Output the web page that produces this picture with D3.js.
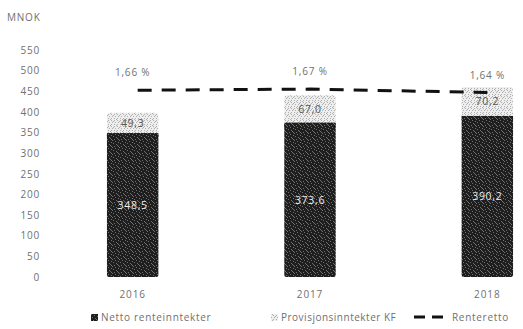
<!DOCTYPE html>
<html>
<head>
<meta charset="utf-8">
<script src="https://cdn.jsdelivr.net/npm/d3@7/dist/d3.min.js"></script>
<style>
  html, body { margin: 0; padding: 0; background: #fff; }
  svg text { font-family: "Open Sans", "DejaVu Sans", sans-serif; }
</style>
</head>
<body>
<svg id="chart" width="523" height="329"></svg>
<script>
// Inntekter per år (MNOK) og rentenetto (%)
const years = ["2016", "2017", "2018"];
const nettoRenteinntekter = [348.5, 373.6, 390.2];
const provisjonsinntekter = [49.3, 67.0, 70.2];
const renteNetto = [1.66, 1.67, 1.64];
const yTicks = [0, 50, 100, 150, 200, 250, 300, 350, 400, 450, 500, 550];
const legendLabels = ["Netto renteinntekter", "Provisjonsinntekter KF", "Renteretto"];

const fmt = v => v.toFixed(1).replace(".", ",");
const fmtPct = v => v.toFixed(2).replace(".", ",") + " %";

const svg = d3.select("#chart");
const textColor = "#707070";

// Teksturer for stolpene
const defs = svg.append("defs");
const dark = defs.append("pattern").attr("id", "darkTex")
  .attr("patternUnits", "userSpaceOnUse").attr("width", 7).attr("height", 7);
dark.append("rect").attr("width", 7).attr("height", 7).attr("fill", "#1e1e1e");
[[0,0],[3,1],[6,2],[1,3],[4,4],[2,6],[5,5],[6,6]].forEach(([x, y]) =>
  dark.append("rect").attr("x", x).attr("y", y).attr("width", 1).attr("height", 1).attr("fill", "#707070"));
const light = defs.append("pattern").attr("id", "lightTex")
  .attr("patternUnits", "userSpaceOnUse").attr("width", 6).attr("height", 6);
light.append("rect").attr("width", 6).attr("height", 6).attr("fill", "#eeeeee");
[[0,0],[3,0],[1,2],[4,2],[0,4],[3,4],[5,1],[2,5]].forEach(([x, y]) =>
  light.append("rect").attr("x", x).attr("y", y).attr("width", 1).attr("height", 1).attr("fill", "#b0b0b0"));

// Skalaer
const x = d3.scaleBand().domain(years).range([44, 576]).paddingInner(0.71).paddingOuter(0.355);
const y = d3.scaleLinear().domain([0, 550]).range([277, 50]);
const y2 = d3.scaleLinear().domain([0, 2.0]).range([277, 52]);

// Y-akse
const yAxis = svg.append("g").attr("transform", "translate(40,0)")
  .call(d3.axisLeft(y).tickValues(yTicks).tickSize(0).tickPadding(0));
yAxis.select(".domain").remove();
yAxis.selectAll("text").attr("fill", textColor).attr("font-size", 10).attr("letter-spacing", "0.8px");

svg.append("text").attr("x", 7).attr("y", 21).attr("fill", textColor)
  .attr("font-size", 10).attr("letter-spacing", "0.8px").text("MNOK");

// X-akse
const xAxis = svg.append("g").attr("transform", "translate(0,277)")
  .call(d3.axisBottom(x).tickSize(0).tickPadding(14));
xAxis.select(".domain").remove();
xAxis.selectAll("text").attr("fill", textColor).attr("font-size", 10).attr("letter-spacing", "0.9px");

// Stablede stolper
const bars = svg.append("g");
years.forEach((yr, i) => {
  const x0 = x(yr), w = x.bandwidth();
  const base = nettoRenteinntekter[i];
  const top = base + provisjonsinntekter[i];
  bars.append("rect").attr("x", x0).attr("width", w)
    .attr("y", y(top)).attr("height", y(base) - y(top) + 3)
    .attr("rx", 3).attr("fill", "url(#lightTex)");
  bars.append("rect").attr("x", x0).attr("width", w)
    .attr("y", y(base)).attr("height", y(0) - y(base))
    .attr("rx", 2).attr("fill", "url(#darkTex)");
  bars.append("rect").attr("x", x0).attr("width", w)
    .attr("y", y(base)).attr("height", 4).attr("fill", "url(#darkTex)");
  bars.append("text").attr("x", x0 + w / 2).attr("y", (y(base) + y(0)) / 2 + 4)
    .attr("text-anchor", "middle").attr("fill", "#eeeeee").attr("font-size", 10.5)
    .attr("letter-spacing", "0.7px").text(fmt(base));
  bars.append("text").attr("x", x0 + w / 2).attr("y", (y(top) + y(base)) / 2 + 4)
    .attr("text-anchor", "middle").attr("fill", "#555").attr("font-size", 10.5)
    .attr("letter-spacing", "0.7px").text(fmt(provisjonsinntekter[i]));
});

// Rentenetto-linje
const cx = yr => x(yr) + x.bandwidth() / 2;
const line = d3.line().x((d, i) => cx(years[i])).y(d => y2(d));
svg.append("path").datum(renteNetto).attr("d", line)
  .attr("fill", "none").attr("stroke", "#111").attr("stroke-width", 3)
  .attr("stroke-dasharray", "14 10").attr("stroke-dashoffset", -5);
svg.append("g").selectAll("text").data(renteNetto).join("text")
  .attr("x", (d, i) => cx(years[i])).attr("y", d => y2(d) - 14)
  .attr("text-anchor", "middle").attr("fill", textColor).attr("font-size", 10)
  .attr("letter-spacing", "0.8px").text(d => fmtPct(d));

// Tegnforklaring
const lg = svg.append("g").attr("transform", "translate(0,321)");
lg.append("rect").attr("x", 91).attr("y", -7).attr("width", 7).attr("height", 7).attr("fill", "url(#darkTex)");
lg.append("text").attr("x", 101).attr("y", 0).attr("fill", textColor).attr("font-size", 10)
  .attr("letter-spacing", "0.7px").text(legendLabels[0]);
lg.append("rect").attr("x", 271).attr("y", -7).attr("width", 7).attr("height", 7).attr("fill", "url(#lightTex)");
lg.append("text").attr("x", 281).attr("y", 0).attr("fill", textColor).attr("font-size", 10)
  .attr("letter-spacing", "0.5px").text(legendLabels[1]);
lg.append("line").attr("x1", 414).attr("x2", 446).attr("y1", -4).attr("y2", -4)
  .attr("stroke", "#111").attr("stroke-width", 3).attr("stroke-dasharray", "11 7");
lg.append("text").attr("x", 452).attr("y", 0).attr("fill", textColor).attr("font-size", 10)
  .attr("letter-spacing", "0.7px").text(legendLabels[2]);
</script>
</body>
</html>
